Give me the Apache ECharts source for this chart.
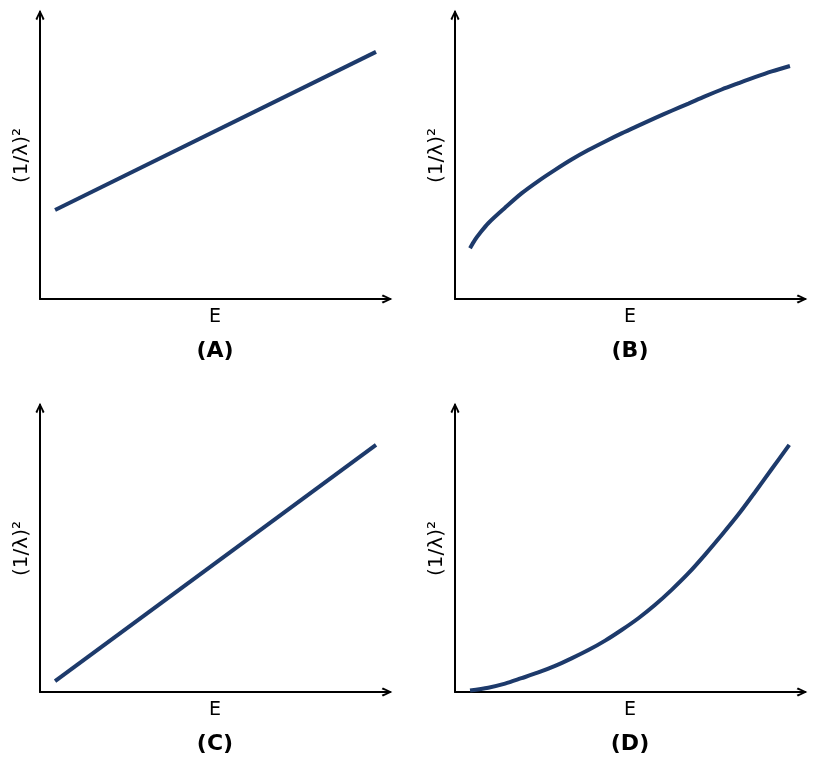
<!DOCTYPE html>
<html>
<head>
<meta charset="utf-8">
<script src="https://cdn.jsdelivr.net/npm/echarts@6/dist/echarts.min.js"></script>
<style>
html,body{margin:0;padding:0;background:#fff;}
#chart{width:818px;height:769px;}
</style>
</head>
<body>
<div id="chart"></div>
<script>
// Panel labels and axis titles
const panelLabels = ['(A)', '(B)', '(C)', '(D)'];
const xTitle = 'E';
const yTitle = '(1/λ)²';

// Data (arbitrary units, axes span 0..10)
const dataA = [[0.43, 3.10], [9.60, 8.61]];
const dataB = [[0.43, 1.77], [0.57, 2.06], [0.71, 2.29], [0.95, 2.64], [1.43, 3.18], [1.90, 3.68],
               [2.38, 4.11], [2.86, 4.50], [3.33, 4.86], [3.81, 5.19], [4.29, 5.49], [4.76, 5.77],
               [5.24, 6.04], [5.71, 6.30], [6.19, 6.56], [6.67, 6.81], [7.14, 7.06], [7.62, 7.30],
               [8.10, 7.52], [8.57, 7.73], [9.05, 7.93], [9.57, 8.12]];
const dataC = [[0.43, 0.38], [9.60, 8.61]];
const dataD = [[0.43, 0.05], [0.95, 0.15], [1.43, 0.29], [1.90, 0.48], [2.38, 0.68], [2.86, 0.91],
               [3.33, 1.17], [3.81, 1.46], [4.29, 1.79], [4.76, 2.16], [5.24, 2.57], [5.71, 3.03],
               [6.19, 3.56], [6.67, 4.14], [7.14, 4.78], [7.62, 5.47], [8.10, 6.19], [8.57, 6.96],
               [9.05, 7.77], [9.55, 8.61]];

const seriesData = [dataA, dataB, dataC, dataD];
const lineColor = '#1d3a6b';
const font = 'DejaVu Sans';
const arrowPath = 'path://M40,0 L80,84 L65,95 L40,32 L15,95 L0,84 Z';

const grids = [
  {left: 40, top: 12, width: 350, height: 287},
  {left: 455, top: 12, width: 350, height: 287},
  {left: 40, top: 405, width: 350, height: 287},
  {left: 455, top: 405, width: 350, height: 287}
];

const axisLine = {
  show: true,
  onZero: false,
  lineStyle: {color: '#000', width: 2},
  symbol: ['none', arrowPath],
  symbolSize: [9, 11],
  symbolOffset: [0, -3]
};

const xAxes = grids.map((g, i) => ({
  type: 'value', gridIndex: i, min: 0, max: 10,
  axisLine: axisLine, axisTick: {show: false}, axisLabel: {show: false}, splitLine: {show: false},
  name: xTitle, nameLocation: 'middle', nameGap: 9,
  nameTextStyle: {fontFamily: font, fontSize: 19, color: '#000', verticalAlign: 'top'}
}));
const yAxes = grids.map((g, i) => ({
  type: 'value', gridIndex: i, min: 0, max: 10,
  axisLine: axisLine, axisTick: {show: false}, axisLabel: {show: false}, splitLine: {show: false},
  name: yTitle, nameLocation: 'middle', nameGap: 8, nameRotate: 90,
  nameTextStyle: {fontFamily: font, fontSize: 20, color: '#000', verticalAlign: 'bottom'}
}));

const series = seriesData.map((d, i) => ({
  type: 'line', xAxisIndex: i, yAxisIndex: i, data: d,
  smooth: (i === 1 || i === 3) ? 0.3 : false,
  showSymbol: false, symbol: 'none',
  lineStyle: {color: lineColor, width: 4, cap: 'butt'},
  animation: false
}));

const graphic = grids.map((g, i) => ({
  type: 'text',
  x: g.left + 175,
  y: g.top + g.height + 52,
  style: {
    text: panelLabels[i], fontFamily: font, fontWeight: 'bold', fontSize: 22,
    fill: '#000', textAlign: 'center', textVerticalAlign: 'middle'
  }
}));

const chart = echarts.init(document.getElementById('chart'), null, {renderer: 'canvas'});
chart.setOption({
  animation: false,
  backgroundColor: '#fff',
  grid: grids,
  xAxis: xAxes,
  yAxis: yAxes,
  series: series,
  graphic: graphic
});
</script>
</body>
</html>
